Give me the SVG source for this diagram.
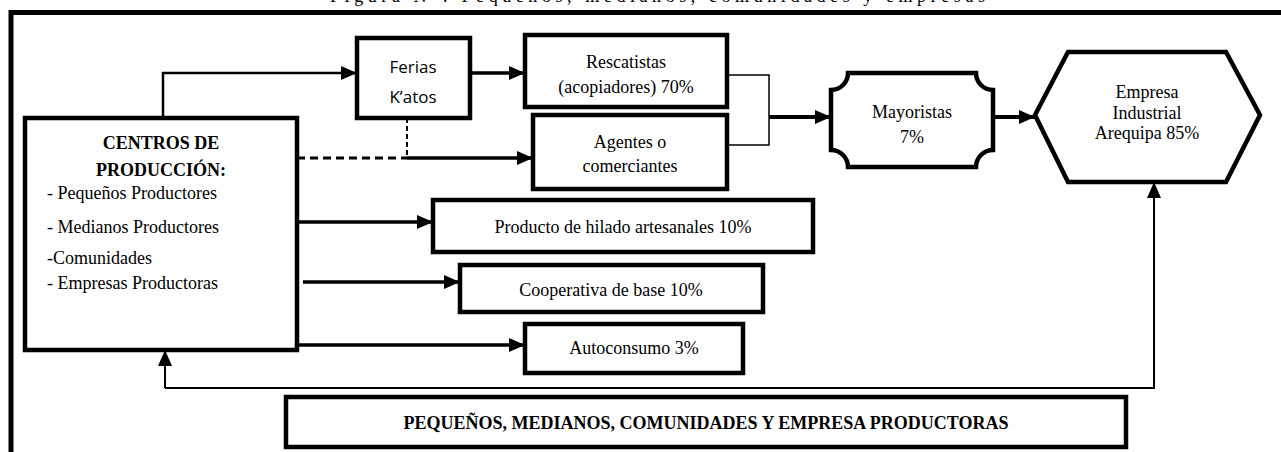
<svg xmlns="http://www.w3.org/2000/svg" width="1281" height="452" viewBox="0 0 1281 452">
<style>
.box{fill:#fff;stroke:#000;stroke-width:4.5}
.t{font-family:"Liberation Serif","Times New Roman",serif;font-size:18px;fill:#000}
.c{text-anchor:middle}
.b{font-weight:bold}
.s{font-family:"Open Sans","Noto Sans",sans-serif;font-size:17px;fill:#000;text-anchor:middle}
.ln{fill:none;stroke:#000}
</style>
<defs>
<marker id="ah" markerUnits="userSpaceOnUse" markerWidth="16" markerHeight="14" refX="16" refY="7" orient="auto">
<path d="M0,0 L16,7 L0,14 Z" fill="#000"/>
</marker>
</defs>
<rect width="1281" height="452" fill="#fff"/>
<text class="t" x="330" y="2" textLength="655" lengthAdjust="spacing">Figura N°: Pequeños, medianos, comunidades y empresas</text>
<path class="ln" d="M11,452 V12.5 H1281" stroke-width="5"/>
<g id="connectors">
<path class="ln" d="M163,118 V73 H357" stroke-width="2.5" marker-end="url(#ah)"/>
<path class="ln" d="M470,73 H525" stroke-width="3.5" marker-end="url(#ah)"/>
<path class="ln" d="M297,158 H407" stroke-width="3" stroke-dasharray="8 5"/>
<path class="ln" d="M407,118 V158" stroke-width="2" stroke-dasharray="5 3"/>
<path class="ln" d="M407,158 H533" stroke-width="3.5" marker-end="url(#ah)"/>
<path class="ln" d="M727,75 H769 V145 H727" stroke-width="1.5"/>
<path class="ln" d="M769,117 H831" stroke-width="4" marker-end="url(#ah)"/>
<path class="ln" d="M993,117 H1035" stroke-width="4" marker-end="url(#ah)"/>
<path class="ln" d="M297,222 H433" stroke-width="3.5" marker-end="url(#ah)"/>
<path class="ln" d="M303,282 H460" stroke-width="3.5" marker-end="url(#ah)"/>
<path class="ln" d="M297,345 H525" stroke-width="3.5" marker-end="url(#ah)"/>
<path class="ln" d="M165,388 H1154 V182" stroke-width="2" marker-end="url(#ah)"/>
<path class="ln" d="M165,388 V350" stroke-width="2" marker-end="url(#ah)"/>
</g>
<g id="centros">
<rect class="box" x="25" y="118" width="272" height="232"/>
<text class="t c b" x="161" y="149">CENTROS DE</text>
<text class="t c b" x="161" y="176">PRODUCCIÓN:</text>
<text class="t" x="47" y="199">- Pequeños Productores</text>
<text class="t" x="47" y="233">- Medianos Productores</text>
<text class="t" x="47" y="264">-Comunidades</text>
<text class="t" x="47" y="289">- Empresas Productoras</text>
</g>
<g id="ferias">
<rect class="box" x="357" y="38" width="113" height="80"/>
<text class="s" x="413" y="73">Ferias</text>
<text class="s" x="413" y="103">K’atos</text>
</g>
<g id="rescatistas">
<rect class="box" x="525" y="35" width="202" height="72"/>
<text class="t c" x="626" y="68">Rescatistas</text>
<text class="t c" x="626" y="93">(acopiadores) 70%</text>
</g>
<g id="agentes">
<rect class="box" x="533" y="115" width="194" height="74"/>
<text class="t c" x="630" y="148">Agentes o</text>
<text class="t c" x="630" y="172">comerciantes</text>
</g>
<g id="mayoristas">
<path class="box" d="M848,73 H976 A17,17 0 0 0 993,90 V150 A17,17 0 0 0 976,167 H848 A17,17 0 0 0 831,150 V90 A17,17 0 0 0 848,73 Z"/>
<text class="t c" x="912" y="118">Mayoristas</text>
<text class="t c" x="912" y="143">7%</text>
</g>
<g id="empresa">
<path class="box" d="M1035,115 L1068,52 H1226 L1260,115 L1226,182 H1068 Z" stroke-width="5"/>
<text class="t c" x="1147" y="98">Empresa</text>
<text class="t c" x="1147" y="119">Industrial</text>
<text class="t c" x="1147" y="139">Arequipa 85%</text>
</g>
<g id="producto">
<rect class="box" x="433" y="200" width="380" height="52"/>
<text class="t c" x="623" y="233">Producto de hilado artesanales 10%</text>
</g>
<g id="cooperativa">
<rect class="box" x="460" y="265" width="303" height="47"/>
<text class="t c" x="611" y="296">Cooperativa de base 10%</text>
</g>
<g id="autoconsumo">
<rect class="box" x="525" y="324" width="218" height="49"/>
<text class="t c" x="634" y="354">Autoconsumo 3%</text>
</g>
<g id="productoras">
<rect class="box" x="286" y="397" width="840" height="50"/>
<text class="t c b" x="706" y="429">PEQUEÑOS, MEDIANOS, COMUNIDADES Y EMPRESA PRODUCTORAS</text>
</g>
</svg>
